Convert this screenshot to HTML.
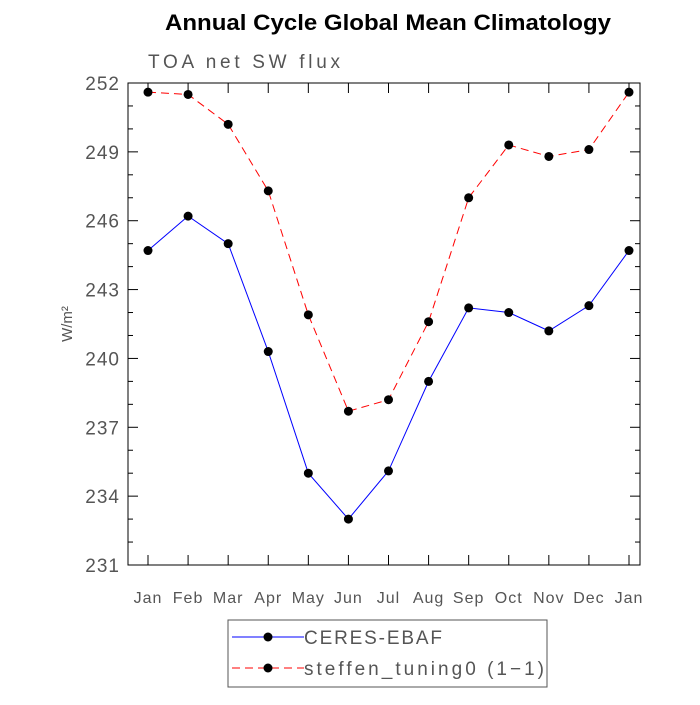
<!DOCTYPE html>
<html><head><meta charset="utf-8"><style>
body{margin:0;background:#fff;width:700px;height:700px;overflow:hidden}
text{font-family:"Liberation Sans",sans-serif}
</style></head><body>
<svg id="chart" width="700" height="700" xmlns="http://www.w3.org/2000/svg">
<text x="388" y="30" text-anchor="middle" font-size="22" font-weight="bold" textLength="446" lengthAdjust="spacingAndGlyphs">Annual Cycle Global Mean Climatology</text>
<text x="148" y="68" font-size="19" fill="#555" textLength="192" lengthAdjust="spacing">TOA net SW flux</text>
<text transform="translate(72,324) rotate(-90)" text-anchor="middle" font-size="15" fill="#555">W/m²</text>
<g id="axes"></g><g id="series"></g>
<g>
<rect x="228" y="620" width="319" height="67" fill="#fff" stroke="#555"/>
<line x1="232" y1="637" x2="304" y2="637" stroke="#0000ff"/>
<circle cx="268" cy="637" r="4.5"/>
<text x="304" y="644" font-size="19" fill="#555" textLength="138" lengthAdjust="spacing">CERES-EBAF</text>
<line x1="232" y1="668" x2="304" y2="668" stroke="#ff0000" stroke-dasharray="8,5"/>
<circle cx="268" cy="668" r="4.5"/>
<text x="304" y="675" font-size="19" fill="#555" textLength="240" lengthAdjust="spacing">steffen_tuning0 (1−1)</text>
</g>
</svg>
<script>
const months=["Jan","Feb","Mar","Apr","May","Jun","Jul","Aug","Sep","Oct","Nov","Dec","Jan"];
const ceres=[244.7,246.2,245.0,240.3,235.0,233.0,235.1,239.0,242.2,242.0,241.2,242.3,244.7];
const steffen=[251.6,251.5,250.2,247.3,241.9,237.7,238.2,241.6,247.0,249.3,248.8,249.1,251.6];
const yTicks=[231,234,237,240,243,246,249,252];
const NS="http://www.w3.org/2000/svg";
const L=128,R=640,T=83,B=565,ymin=231,ymax=252;
const x=i=>148+i*(629-148)/12;
const y=v=>B-(v-ymin)/(ymax-ymin)*(B-T);
function mk(t,a,p){const e=document.createElementNS(NS,t);for(const k in a)e.setAttribute(k,a[k]);p.appendChild(e);return e;}
const ax=document.getElementById('axes');
const fr=mk('rect',{x:L,y:T,width:R-L,height:B-T,fill:'none',stroke:'#000'},ax);


for(let v=ymin;v<=ymax;v++){const maj=(v-ymin)%3===0;const len=maj?10:5;
mk('line',{x1:L,x2:L+len,y1:y(v),y2:y(v),stroke:'#000'},ax);
mk('line',{x1:R,x2:R-len,y1:y(v),y2:y(v),stroke:'#000'},ax);}
yTicks.forEach(v=>{const t=mk('text',{x:L-8,y:y(v)+7,'text-anchor':'end','font-size':19,fill:'#555','letter-spacing':1},ax);t.textContent=v;

});
months.forEach((m,i)=>{mk('line',{x1:x(i),x2:x(i),y1:B,y2:B-10,stroke:'#000'},ax);mk('line',{x1:x(i),x2:x(i),y1:T,y2:T+10,stroke:'#000'},ax);
const t=mk('text',{x:x(i),y:603,'text-anchor':'middle','font-size':16,fill:'#555','letter-spacing':1},ax);t.textContent=m;

});
const sg=document.getElementById('series');
function series(d,col,dash,name){const g=mk('g',{},sg);


const a={points:d.map((v,i)=>x(i)+','+y(v)).join(' '),fill:'none',stroke:col};if(dash)a['stroke-dasharray']=dash;mk('polyline',a,g);
d.forEach((v,i)=>{const c=mk('circle',{cx:x(i),cy:y(v),r:4.5},g);

});}
series(ceres,'#0000ff',null,'ceres-line');
series(steffen,'#ff0000','8,5','steffen-line');
</script>
</body></html>
